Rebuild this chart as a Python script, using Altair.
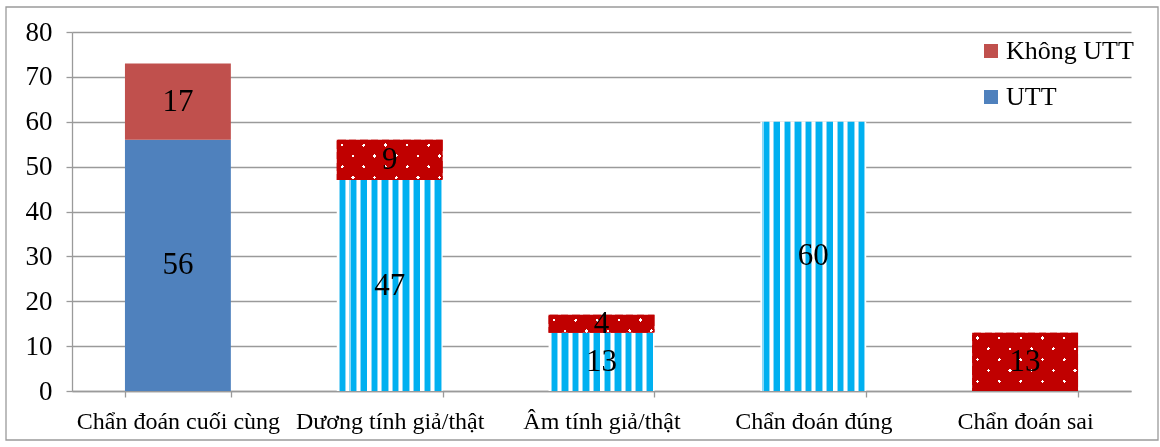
import math
import altair as alt
import pandas as pd

# ---------------- data ----------------
categories = ["Chẩn đoán cuối cùng", "Dương tính giả/thật", "Âm tính giả/thật",
              "Chẩn đoán đúng", "Chẩn đoán sai"]
series_names = ["Không UTT", "UTT"]
utt_values = [56, 47, 13, 60, 0]
khong_utt_values = [17, 9, 4, 0, 13]
y_tick_values = [0, 10, 20, 30, 40, 50, 60, 70, 80]

# ---------------- layout / style ----------------
PLOT_W, PLOT_H = 1059, 359
Y_MAX = 80
PAD = {"left": 72, "top": 32, "right": 29, "bottom": 56}
FONT = "Liberation Serif"
GRAY = "#9a9a9a"
BLUE_SOLID = "#4F81BD"
RED_SOLID = "#C0504D"
STRIPE_BLUE = "#00B0F0"
DOT_RED = "#C00000"
BAR_W = PLOT_W / len(categories) * 0.5

rows = []
for i, c in enumerate(categories):
    rows.append({"cat": c, "series": "UTT", "value": utt_values[i], "ord": 0, "idx": i})
    rows.append({"cat": c, "series": "Không UTT", "value": khong_utt_values[i], "ord": 1, "idx": i})
df = pd.DataFrame(rows)


def stripe_gradient(periods=10):
    stops = []
    for k in range(periods):
        b = k / periods
        p = 1 / periods
        stops += [
            (b, "#ffffff"), (b + 0.20 * p, "#ffffff"),
            (b + 0.20 * p, "#8ad9f7"), (b + 0.30 * p, "#8ad9f7"),
            (b + 0.30 * p, STRIPE_BLUE), (b + 0.82 * p, STRIPE_BLUE),
            (b + 0.82 * p, "#8ad9f7"), (b + 0.90 * p, "#8ad9f7"),
            (b + 0.90 * p, "#ffffff"), (b + p, "#ffffff"),
        ]
    return alt.LinearGradient(
        gradient="linear", x1=0, y1=0, x2=1, y2=0,
        stops=[alt.GradientStop(offset=min(1.0, o), color=c) for o, c in stops])


def diag_gradient(w, h, nx, ny, phase, spacing=15.3, stripe=2.4):
    corners = [(0, 0), (1, 0), (0, 1), (1, 1)]
    fvals = [w * u * nx + h * v * ny for u, v in corners]
    fmin, fmax = min(fvals), max(fvals)
    span = fmax - fmin
    p1 = corners[fvals.index(fmin)]
    gx, gy = w * nx, h * ny
    g2 = gx * gx + gy * gy
    x2 = p1[0] + gx * span / g2
    y2 = p1[1] + gy * span / g2
    stops = [(0.0, DOT_RED)]
    k0 = math.floor((fmin - phase) / spacing) - 1
    k1 = math.ceil((fmax - phase) / spacing) + 1
    for k in range(k0, k1 + 1):
        a = (k * spacing + phase - fmin) / span
        b = (k * spacing + phase + stripe - fmin) / span
        if b <= 0 or a >= 1:
            continue
        a, b = max(a, 0.0), min(b, 1.0)
        stops += [(a, DOT_RED), (a, "#ffffff"), (b, "#ffffff"), (b, DOT_RED)]
    stops.append((1.0, DOT_RED))
    return alt.LinearGradient(
        gradient="linear", x1=p1[0], y1=p1[1], x2=x2, y2=y2,
        stops=[alt.GradientStop(offset=o, color=c) for o, c in stops])


x_enc = alt.X(
    "cat:N", sort=categories, title=None,
    scale=alt.Scale(domain=categories, paddingInner=0.5, paddingOuter=0.25),
    axis=alt.Axis(tickBand="extent", tickSize=6, tickColor=GRAY, tickWidth=1.3,
                  domainColor=GRAY, domainWidth=1.3, labelFont=FONT, labelFontSize=24,
                  labelColor="#000000", labelPadding=12, labelAngle=0, labelLimit=400,
                  grid=False))
y_scale = alt.Scale(domain=[0, Y_MAX], nice=False)
y_axis = alt.Axis(values=y_tick_values, tickSize=6, tickColor=GRAY, tickWidth=1.3,
                  domainColor=GRAY, domainWidth=1.3, gridColor=GRAY, gridWidth=1.3,
                  labelFont=FONT, labelFontSize=27, labelColor="#000000",
                  labelPadding=14, grid=True)


def y_enc(field):
    return alt.Y(field, scale=y_scale, axis=y_axis, title=None)


base = alt.Chart(df).transform_stack(
    stack="value", groupby=["cat"], as_=["y0", "y1"], sort=[alt.SortField("ord")])

layers = []

# solid bar (first category) with legend
legend = alt.Legend(orient="none", legendX=906, legendY=6, title=None,
                    symbolType="square", symbolSize=196, symbolStrokeWidth=0,
                    labelFont=FONT, labelFontSize=26, labelColor="#000000",
                    rowPadding=20, labelOffset=2, padding=0)
solid = base.transform_filter("datum.idx == 0").mark_bar(strokeWidth=0).encode(
    x=x_enc,
    y=y_enc("y0:Q"),
    y2="y1:Q",
    color=alt.Color("series:N",
                    scale=alt.Scale(domain=series_names, range=[RED_SOLID, BLUE_SOLID]),
                    legend=legend),
)
layers.append(solid)

# striped UTT bars
striped = (
    base.transform_filter("datum.idx > 0 && datum.series == 'UTT' && datum.value > 0")
    .mark_bar(color=stripe_gradient(10), strokeWidth=0)
    .encode(x=x_enc, y=y_enc("y0:Q"), y2="y1:Q")
)
layers.append(striped)

# dotted red bars (two diagonal stripe families, darken blended -> staggered dots)
s2 = math.sqrt(0.5)
DOT0 = 5.4          # first dot position inside the segment (px)
STRIPE = 2.4
phase1 = (DOT0 - DOT0) * s2 - STRIPE / 2
phase2 = (DOT0 + DOT0) * s2 - STRIPE / 2
for i in range(1, len(categories)):
    v = khong_utt_values[i]
    if v <= 0:
        continue
    h = v * PLOT_H / Y_MAX
    sel = base.transform_filter(f"datum.idx == {i} && datum.series == 'Không UTT'")
    layers.append(
        sel.mark_bar(color=diag_gradient(BAR_W, h, s2, -s2, phase1, stripe=STRIPE),
                     strokeWidth=0)
        .encode(x=x_enc, y=y_enc("y0:Q"), y2="y1:Q"))
    layers.append(
        sel.mark_bar(color=diag_gradient(BAR_W, h, s2, s2, phase2, stripe=STRIPE),
                     strokeWidth=0, blend="darken")
        .encode(x=x_enc, y=y_enc("y0:Q"), y2="y1:Q"))

# value labels
labels = (
    base.transform_filter("datum.value > 0")
    .transform_calculate(mid="(datum.y0 + datum.y1) / 2")
    .mark_text(font=FONT, fontSize=31, color="#000000", baseline="middle", align="center")
    .encode(x=x_enc, y=y_enc("mid:Q"), text="value:Q")
)
layers.append(labels)

# outer chart frame
frame = alt.Chart(alt.Data(values=[{}])).mark_rect(
    fill="transparent", stroke=GRAY, strokeWidth=1.3).encode(
    x=alt.value(6 - PAD["left"]), x2=alt.value(1158 - PAD["left"]),
    y=alt.value(7 - PAD["top"]), y2=alt.value(440 - PAD["top"]))
layers.append(frame)

chart = alt.layer(*layers).properties(
    width=PLOT_W, height=PLOT_H, padding=PAD,
    autosize=alt.AutoSizeParams(type="none"),
    background="#ffffff",
).configure_view(strokeWidth=0)

chart.save("out.html", embed_options={"renderer": "svg", "actions": False})
